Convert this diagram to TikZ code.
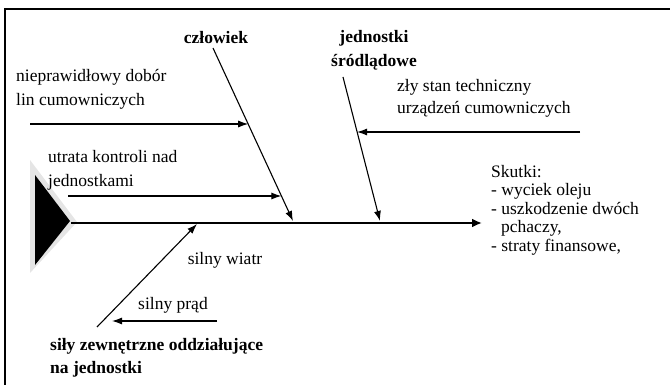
\documentclass[tikz,border=0pt]{standalone}
\usepackage{fontspec}
\setmainfont{Liberation Serif}
\usetikzlibrary{arrows.meta}
\begin{document}
\begin{tikzpicture}[x=1pt,y=-1pt,
  lbl/.style={inner sep=0pt,align=left,font=\fontsize{17.5}{24}\selectfont},
  blbl/.style={lbl,font=\fontsize{17.5}{24}\selectfont\bfseries},
  bone/.style={line width=1.1pt,-{Latex[length=10pt,width=7pt]}},
  spine/.style={line width=2.6pt,-{Latex[length=10pt,width=9pt]}},
  frameline/.style={line width=1.6pt}]
\useasboundingbox (0,0) rectangle (670,385);
% frame
\coordinate (fb) at (5,386);
\coordinate (fc) at (5,9);
\coordinate (fr) at (671,9);
\draw[frameline] (fb) -- (fc) -- (fr);
% head triangle
\fill[gray!20] (30,160) -- (30,273) -- (77,222) -- cycle;
\fill[black] (35,175) -- (35,265) -- (70,221) -- cycle;
% coordinates
\coordinate (sp0) at (71,223);
\coordinate (sp1) at (482,223);
\coordinate (b1s) at (213,48);
\coordinate (b1e) at (293,221);
\coordinate (b2s) at (343,77);
\coordinate (b2e) at (380,221);
\coordinate (b3s) at (97,327);
\coordinate (b3e) at (197,224);
\path (b1s) -- (b1e) coordinate[pos=0.44] (p1) coordinate[pos=0.855] (p2);
\path (b2s) -- (b2e) coordinate[pos=0.38] (p3);
\coordinate (a1s) at (30,124);
\coordinate (a2s) at (68,196);
\coordinate (a3s) at (580,132);
\coordinate (a4s) at (217,321);
\coordinate (a4e) at (112,321);
% spine and bones
\draw[spine] (sp0) -- (sp1);
\draw[bone] (b1s) -- (b1e);
\draw[bone] (b2s) -- (b2e);
\draw[bone] (b3s) -- (b3e);
\draw[bone] (a1s) -- (a1s -| p1);
\draw[bone] (a2s) -- (a2s -| p2);
\draw[bone] (a3s) -- (a3s -| p3);
\draw[bone] (a4s) -- (a4e);
% labels
\node[blbl,anchor=center] (czl) at (216,38) {człowiek};
\node[blbl,align=center] (jed) at (374,50) {jednostki\\śródlądowe};
\node[lbl,anchor=west] (t1) at (16,89) {nieprawidłowy dobór\\lin cumowniczych};
\node[lbl,anchor=west] (t2) at (48,170) {utrata kontroli nad\\jednostkami};
\node[lbl,anchor=west,font=\fontsize{17.5}{22}\selectfont] (t3) at (397,98) {zły stan techniczny\\urządzeń cumowniczych};
\node[lbl,anchor=west,font=\fontsize{17.5}{18.5}\selectfont] (sk) at (491,210) {Skutki:\\- wyciek oleju\\- uszkodzenie dwóch\\\hspace*{10pt}pchaczy,\\- straty finansowe,};
\node[lbl] (sw) at (225,260) {silny wiatr};
\node[lbl] (sp) at (173,305) {silny prąd};
\node[blbl,anchor=west,font=\fontsize{17.5}{23}\selectfont\bfseries] (sz) at (50,358) {siły zewnętrzne oddziałujące\\na jednostki};
\end{tikzpicture}
\end{document}
